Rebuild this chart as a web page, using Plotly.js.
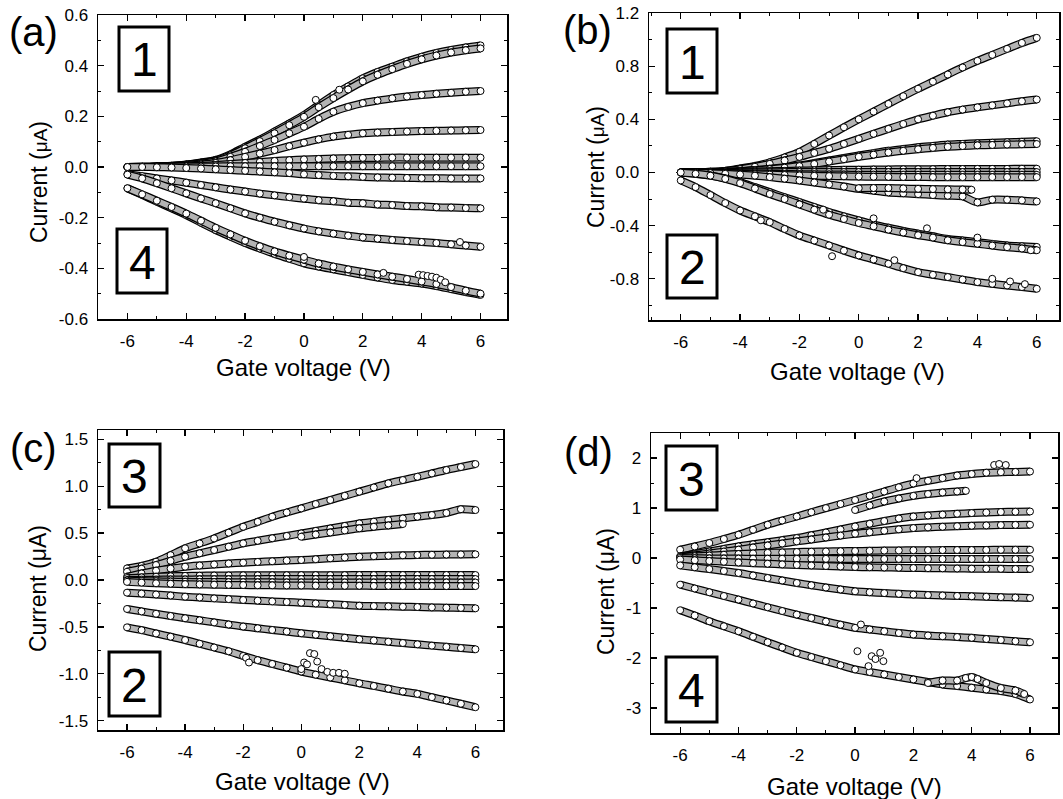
<!DOCTYPE html>
<html><head><meta charset="utf-8">
<script src="https://cdn.plot.ly/plotly-3.0.1.min.js"></script>
<style>html,body{margin:0;padding:0;background:#fff}#chart{width:1063px;height:799px}</style>
</head><body><div id="chart"></div>
<script>
// ---------- shared gate-voltage samples (V) ----------
const xs = [-6,-5.5,-5,-4.5,-4,-3.5,-3,-2.5,-2,-1.5,-1,-0.5,0,0.5,1,1.5,2,2.5,3,3.5,4,4.5,5,5.5,6];
const xTickVals = [-6,-4,-2,0,2,4,6];
const xTickText = ["-6","-4","-2","0","2","4","6"];

// ---------- panel (a) currents (uA) ----------
const a1  = [0.000,0.001,0.002,0.005,0.010,0.018,0.028,0.050,0.080,0.108,0.140,0.172,0.205,0.245,0.284,0.318,0.350,0.375,0.396,0.417,0.435,0.450,0.462,0.472,0.480];
const a1b = [0.000,0.001,0.002,0.004,0.009,0.016,0.026,0.046,0.074,0.102,0.133,0.165,0.198,0.236,0.272,0.306,0.338,0.364,0.386,0.407,0.425,0.440,0.452,0.461,0.468];
const a2  = [0.000,0.001,0.002,0.004,0.008,0.014,0.022,0.040,0.060,0.083,0.107,0.133,0.159,0.190,0.218,0.237,0.252,0.262,0.271,0.278,0.284,0.289,0.293,0.297,0.300];
const a3  = [0.000,0.000,0.001,0.003,0.006,0.010,0.016,0.027,0.040,0.053,0.067,0.082,0.096,0.109,0.120,0.127,0.133,0.136,0.138,0.140,0.142,0.143,0.144,0.145,0.146];
const a4  = [0.000,0.000,0.001,0.002,0.003,0.005,0.008,0.012,0.016,0.020,0.024,0.027,0.030,0.032,0.034,0.035,0.036,0.036,0.037,0.037,0.037,0.037,0.037,0.037,0.037];
const a5  = [0.000,0.000,0.001,0.001,0.002,0.002,0.002,0.003,0.003,0.003,0.003,0.003,0.003,0.003,0.003,0.003,0.003,0.003,0.003,0.003,0.003,0.003,0.003,0.003,0.003];
const a6  = [0.000,0.000,-0.001,-0.002,-0.004,-0.006,-0.009,-0.012,-0.015,-0.018,-0.021,-0.024,-0.029,-0.032,-0.035,-0.037,-0.039,-0.041,-0.042,-0.043,-0.044,-0.044,-0.045,-0.045,-0.045];
const a7  = [-0.028,-0.036,-0.045,-0.053,-0.062,-0.071,-0.080,-0.089,-0.097,-0.105,-0.112,-0.119,-0.125,-0.131,-0.135,-0.141,-0.143,-0.148,-0.150,-0.154,-0.155,-0.159,-0.160,-0.162,-0.163];
const a8  = [-0.030,-0.045,-0.064,-0.084,-0.104,-0.124,-0.143,-0.163,-0.183,-0.200,-0.216,-0.230,-0.243,-0.254,-0.263,-0.271,-0.278,-0.283,-0.288,-0.292,-0.296,-0.300,-0.305,-0.310,-0.315];
const a9  = [-0.084,-0.110,-0.137,-0.163,-0.190,-0.220,-0.249,-0.275,-0.300,-0.322,-0.343,-0.362,-0.380,-0.393,-0.404,-0.415,-0.426,-0.436,-0.446,-0.453,-0.460,-0.470,-0.482,-0.494,-0.505];
const a9b = [-0.084,-0.108,-0.133,-0.158,-0.184,-0.212,-0.240,-0.266,-0.291,-0.313,-0.333,-0.350,-0.366,-0.381,-0.393,-0.404,-0.414,-0.424,-0.433,-0.442,-0.452,-0.462,-0.474,-0.488,-0.500];
const aOutX = [0.4,1.2,0.0,2.7,3.9,4.05,4.2,4.35,4.5,4.65,4.8,5.3];
const aOutY = [0.265,0.305,-0.355,-0.418,-0.425,-0.427,-0.430,-0.433,-0.437,-0.445,-0.455,-0.296];
const aYTickVals = [-0.6,-0.4,-0.2,0,0.2,0.4,0.6];
const aYTickText = ["-0.6","-0.4","-0.2","0.0","0.2","0.4","0.6"];

// ---------- panel (b) ----------
const b1  = [0.000,0.002,0.005,0.012,0.030,0.050,0.077,0.113,0.155,0.215,0.278,0.340,0.400,0.458,0.516,0.574,0.630,0.683,0.737,0.790,0.840,0.885,0.930,0.975,1.013];
const b2  = [0.000,0.002,0.005,0.012,0.025,0.043,0.065,0.090,0.117,0.147,0.178,0.215,0.253,0.291,0.328,0.365,0.400,0.427,0.453,0.473,0.490,0.505,0.520,0.536,0.549];
const b3  = [0.000,0.001,0.003,0.006,0.010,0.018,0.028,0.040,0.053,0.071,0.090,0.109,0.128,0.146,0.163,0.177,0.190,0.200,0.210,0.215,0.220,0.224,0.228,0.231,0.235];
const b3b = [0.000,0.001,0.002,0.005,0.009,0.016,0.025,0.036,0.048,0.064,0.082,0.100,0.118,0.134,0.150,0.163,0.175,0.185,0.193,0.199,0.204,0.207,0.210,0.212,0.214];
const b4a = [0.000,0.001,0.002,0.004,0.006,0.008,0.010,0.012,0.014,0.016,0.018,0.020,0.021,0.022,0.023,0.024,0.025,0.025,0.026,0.026,0.027,0.027,0.027,0.028,0.028];
const b4b = [0.000,0.000,0.001,0.001,0.002,0.002,0.002,0.003,0.003,0.003,0.003,0.003,0.003,0.003,0.003,0.003,0.003,0.003,0.003,0.003,0.003,0.003,0.003,0.003,0.003];
const b4c = [0.000,-0.001,-0.002,-0.003,-0.005,-0.007,-0.009,-0.011,-0.013,-0.014,-0.015,-0.016,-0.017,-0.017,-0.018,-0.018,-0.018,-0.018,-0.018,-0.018,-0.018,-0.018,-0.018,-0.018,-0.018];
const b4d = [0.000,-0.002,-0.004,-0.007,-0.010,-0.013,-0.016,-0.019,-0.022,-0.025,-0.027,-0.029,-0.031,-0.032,-0.033,-0.034,-0.034,-0.035,-0.035,-0.035,-0.035,-0.035,-0.035,-0.035,-0.035];
const b5  = [0.000,-0.002,-0.005,-0.010,-0.015,-0.024,-0.035,-0.047,-0.060,-0.075,-0.090,-0.106,-0.123,-0.137,-0.150,-0.157,-0.163,-0.170,-0.175,-0.180,-0.225,-0.205,-0.205,-0.210,-0.218];
const b5aX = [0,0.5,1,1.5,2,2.5,3,3.5,3.8];
const b5aY = [-0.118,-0.117,-0.117,-0.120,-0.123,-0.125,-0.127,-0.128,-0.130];
const b6  = [0.000,-0.010,-0.023,-0.045,-0.073,-0.110,-0.148,-0.186,-0.223,-0.260,-0.298,-0.330,-0.360,-0.390,-0.416,-0.440,-0.460,-0.480,-0.500,-0.512,-0.524,-0.537,-0.549,-0.555,-0.560];
const b6b = [0.000,-0.010,-0.024,-0.048,-0.080,-0.120,-0.162,-0.200,-0.240,-0.280,-0.318,-0.350,-0.380,-0.405,-0.430,-0.452,-0.472,-0.490,-0.510,-0.524,-0.536,-0.550,-0.562,-0.572,-0.585];
const b7  = [-0.060,-0.110,-0.170,-0.230,-0.286,-0.330,-0.374,-0.425,-0.474,-0.512,-0.549,-0.588,-0.624,-0.655,-0.687,-0.720,-0.750,-0.770,-0.787,-0.806,-0.825,-0.838,-0.850,-0.862,-0.875];
const bOutX = [-3.3,-1.2,-0.9,0.5,1.2,2.3,4.0,4.5,5.1,5.6,5.8];
const bOutY = [-0.360,-0.280,-0.630,-0.345,-0.660,-0.420,-0.490,-0.800,-0.820,-0.840,-0.585];
const bYTickVals = [-0.8,-0.4,0,0.4,0.8,1.2];
const bYTickText = ["-0.8","-0.4","0.0","0.4","0.8","1.2"];

// ---------- panel (c) ----------
const c1  = [0.124,0.150,0.195,0.265,0.338,0.390,0.444,0.505,0.568,0.620,0.675,0.720,0.764,0.810,0.853,0.898,0.942,0.987,1.031,1.066,1.101,1.137,1.173,1.205,1.237];
const c2  = [0.088,0.120,0.160,0.205,0.249,0.285,0.320,0.355,0.391,0.418,0.445,0.470,0.497,0.524,0.550,0.577,0.604,0.622,0.640,0.657,0.675,0.693,0.715,0.755,0.746];
const c2bX = [0,0.5,1,1.5,2,2.5,3,3.5];
const c2bY = [0.462,0.485,0.507,0.529,0.551,0.567,0.582,0.597];
const c3  = [0.035,0.070,0.100,0.122,0.142,0.155,0.166,0.176,0.185,0.193,0.200,0.207,0.213,0.222,0.231,0.240,0.249,0.254,0.258,0.263,0.267,0.269,0.271,0.273,0.274];
const c4a = [0.020,0.028,0.035,0.040,0.044,0.046,0.048,0.049,0.050,0.050,0.051,0.051,0.052,0.052,0.052,0.052,0.053,0.053,0.053,0.053,0.053,0.053,0.053,0.053,0.053];
const c4b = [0.000,0.002,0.004,0.005,0.006,0.007,0.008,0.008,0.009,0.009,0.010,0.010,0.010,0.010,0.010,0.010,0.010,0.010,0.010,0.010,0.010,0.010,0.010,0.010,0.010];
const c4c = [-0.005,-0.010,-0.014,-0.017,-0.019,-0.021,-0.022,-0.023,-0.024,-0.025,-0.025,-0.026,-0.026,-0.026,-0.026,-0.027,-0.027,-0.027,-0.027,-0.027,-0.027,-0.027,-0.027,-0.027,-0.027];
const c4d = [-0.020,-0.028,-0.035,-0.040,-0.044,-0.047,-0.050,-0.052,-0.054,-0.056,-0.057,-0.058,-0.059,-0.060,-0.061,-0.062,-0.062,-0.063,-0.063,-0.064,-0.064,-0.064,-0.065,-0.065,-0.065];
const c5  = [-0.135,-0.145,-0.155,-0.166,-0.178,-0.187,-0.196,-0.204,-0.213,-0.220,-0.228,-0.235,-0.242,-0.250,-0.258,-0.266,-0.274,-0.278,-0.281,-0.285,-0.288,-0.292,-0.295,-0.298,-0.302];
const c6  = [-0.309,-0.335,-0.360,-0.384,-0.408,-0.430,-0.452,-0.475,-0.497,-0.515,-0.533,-0.550,-0.568,-0.584,-0.600,-0.616,-0.632,-0.645,-0.659,-0.672,-0.686,-0.700,-0.713,-0.726,-0.739];
const c7  = [-0.505,-0.535,-0.570,-0.605,-0.640,-0.680,-0.720,-0.760,-0.810,-0.855,-0.895,-0.935,-0.977,-1.010,-1.040,-1.070,-1.102,-1.130,-1.160,-1.190,-1.215,-1.250,-1.285,-1.320,-1.357];
const cOutX = [-1.9,-1.8,0.0,0.1,0.2,0.3,0.45,0.55,0.7,0.9,1.1,1.3,1.5];
const cOutY = [-0.830,-0.880,-0.950,-0.880,-0.900,-0.780,-0.790,-0.870,-0.950,-0.980,-0.990,-0.990,-1.000];
const cYTickVals = [-1.5,-1,-0.5,0,0.5,1,1.5];
const cYTickText = ["-1.5","-1.0","-0.5","0.0","0.5","1.0","1.5"];

// ---------- panel (d) ----------
const d1  = [0.166,0.230,0.300,0.380,0.465,0.565,0.665,0.750,0.830,0.915,0.998,1.080,1.160,1.245,1.330,1.415,1.490,1.545,1.597,1.650,1.680,1.705,1.716,1.722,1.729];
const d1bX = [0,0.5,1,1.5,2,2.5,3,3.5,3.8];
const d1bY = [0.960,1.050,1.130,1.190,1.243,1.280,1.310,1.330,1.343];
const d2  = [0.032,0.080,0.130,0.180,0.232,0.275,0.315,0.357,0.399,0.455,0.510,0.570,0.631,0.685,0.740,0.790,0.830,0.850,0.868,0.885,0.898,0.910,0.920,0.925,0.930];
const d3  = [0.020,0.055,0.090,0.128,0.166,0.210,0.250,0.290,0.332,0.370,0.410,0.448,0.485,0.515,0.545,0.573,0.599,0.612,0.625,0.636,0.645,0.652,0.658,0.662,0.665];
const d4a = [0.020,0.035,0.050,0.065,0.080,0.092,0.103,0.112,0.120,0.126,0.131,0.136,0.140,0.144,0.148,0.151,0.155,0.157,0.158,0.160,0.160,0.162,0.163,0.164,0.165];
const d4b = [0.000,-0.005,-0.008,-0.010,-0.012,-0.013,-0.014,-0.015,-0.016,-0.017,-0.017,-0.018,-0.018,-0.019,-0.019,-0.019,-0.020,-0.020,-0.020,-0.020,-0.020,-0.020,-0.020,-0.020,-0.020];
const d4c = [-0.030,-0.045,-0.060,-0.075,-0.090,-0.103,-0.115,-0.128,-0.140,-0.150,-0.160,-0.170,-0.180,-0.185,-0.190,-0.195,-0.200,-0.204,-0.207,-0.210,-0.213,-0.215,-0.217,-0.219,-0.220];
const d5  = [-0.148,-0.185,-0.222,-0.260,-0.299,-0.350,-0.400,-0.450,-0.499,-0.545,-0.590,-0.630,-0.666,-0.685,-0.702,-0.717,-0.732,-0.741,-0.750,-0.758,-0.766,-0.775,-0.783,-0.792,-0.800];
const d6  = [-0.533,-0.610,-0.685,-0.760,-0.832,-0.910,-0.985,-1.060,-1.132,-1.200,-1.270,-1.335,-1.397,-1.430,-1.465,-1.500,-1.531,-1.550,-1.565,-1.580,-1.597,-1.620,-1.640,-1.665,-1.685];
const d7  = [-1.045,-1.150,-1.265,-1.365,-1.465,-1.575,-1.685,-1.790,-1.896,-1.980,-2.063,-2.145,-2.229,-2.280,-2.329,-2.380,-2.429,-2.480,-2.529,-2.560,-2.595,-2.630,-2.662,-2.720,-2.830];
const d7bX = [2.5,3,3.5,3.8,4,4.2,4.5,5,5.5,5.8];
const d7bY = [-2.50,-2.45,-2.45,-2.40,-2.38,-2.42,-2.50,-2.60,-2.65,-2.72];
const dOutX = [0.08,0.46,0.57,0.70,0.86,0.97,0.20,2.11,4.77,4.94,5.17];
const dOutY = [-1.864,-2.163,-1.964,-2.020,-1.896,-2.063,-1.330,1.597,1.860,1.880,1.860];
const dYTickVals = [-3,-2,-1,0,1,2];
const dYTickText = ["-3","-2","-1","0","1","2"];

// ---------- traces ----------
const FONT = "Liberation Sans, Arial, sans-serif";
const traces = [];
const MARK = {symbol: 'circle', size: 7, color: '#ffffff', line: {color: '#000', width: 1}};
function curve(x, y, n) {
  // dense chain of overlapping open circles: dark outer edge, hatched (grey) core, circle markers on the samples
  traces.push({x: x, y: y, xaxis: 'x' + n, yaxis: 'y' + n, type: 'scatter', mode: 'lines',
    line: {color: '#000', width: 8, shape: 'spline', smoothing: 0.8}, hoverinfo: 'skip', showlegend: false});
  traces.push({x: x, y: y, xaxis: 'x' + n, yaxis: 'y' + n, type: 'scatter', mode: 'lines+markers',
    line: {color: '#b4b4b4', width: 5.5, shape: 'spline', smoothing: 0.8}, marker: MARK, hoverinfo: 'skip', showlegend: false});
}
function dots(x, y, n) {
  traces.push({x: x, y: y, xaxis: 'x' + n, yaxis: 'y' + n, type: 'scatter', mode: 'markers',
    marker: {symbol: 'circle', size: 7, color: '#fff', line: {color: '#000', width: 1}},
    hoverinfo: 'skip', showlegend: false});
}
[a1,a1b,a2,a3,a4,a5,a6,a7,a8,a9,a9b].forEach(y => curve(xs, y, ''));
dots(aOutX, aOutY, '');
[b1,b2,b3,b3b,b4a,b4b,b4c,b4d,b5,b6,b6b,b7].forEach(y => curve(xs, y, 2));
curve(b5aX, b5aY, 2); dots(bOutX, bOutY, 2);
[c1,c2,c3,c4a,c4b,c4c,c4d,c5,c6,c7].forEach(y => curve(xs, y, 3));
curve(c2bX, c2bY, 3); dots(cOutX, cOutY, 3);
[d1,d2,d3,d4a,d4b,d4c,d5,d6,d7].forEach(y => curve(xs, y, 4));
curve(d1bX, d1bY, 4); curve(d7bX, d7bY, 4); dots(dOutX, dOutY, 4);

// ---------- layout ----------
const W = 1063, H = 799;
const fx = p => p / W, fy = p => 1 - p / H;
function xa(l, r, range) {
  return {domain: [fx(l), fx(r)], range: range, tickmode: 'array', tickvals: xTickVals, ticktext: xTickText,
    ticks: 'inside', ticklen: 6, tickwidth: 1.3, tickcolor: '#000', mirror: 'allticks',
    minor: {ticks: 'inside', ticklen: 3, tickwidth: 1, tickcolor: '#000', dtick: 1, tick0: -7},
    showline: true, linecolor: '#000', linewidth: 1.5, showgrid: false, zeroline: false,
    ticklabelstandoff: 6, tickfont: {family: FONT, size: 17, color: '#000'}, fixedrange: true};
}
function ya(t, b, range, vals, text, minorStep) {
  return {domain: [fy(b), fy(t)], range: range, tickmode: 'array', tickvals: vals, ticktext: text,
    ticks: 'inside', ticklen: 6, tickwidth: 1.3, tickcolor: '#000', mirror: 'allticks',
    minor: {ticks: 'inside', ticklen: 3, tickwidth: 1, tickcolor: '#000', dtick: minorStep, tick0: 0},
    showline: true, linecolor: '#000', linewidth: 1.5, showgrid: false, zeroline: false,
    ticklabelstandoff: 5, tickfont: {family: FONT, size: 17, color: '#000'}, fixedrange: true};
}
const layout = {
  width: W, height: H, margin: {l: 0, r: 0, t: 0, b: 0, pad: 0, autoexpand: false},
  paper_bgcolor: '#fff', plot_bgcolor: '#fff', showlegend: false, font: {family: FONT, color: '#000'},
  xaxis:  Object.assign(xa(98, 507, [-7, 6.9]), {anchor: 'y'}),
  yaxis:  Object.assign(ya(15, 319, [-0.6, 0.6], aYTickVals, aYTickText, 0.1), {anchor: 'x'}),
  xaxis2: Object.assign(xa(649, 1059, [-7.07, 6.75]), {anchor: 'y2'}),
  yaxis2: Object.assign(ya(13, 320, [-1.11, 1.2], bYTickVals, bYTickText, 0.2), {anchor: 'x2'}),
  xaxis3: Object.assign(xa(98, 503, [-7, 6.95]), {anchor: 'y3'}),
  yaxis3: Object.assign(ya(430, 730, [-1.6, 1.6], cYTickVals, cYTickText, 0.25), {anchor: 'x3'}),
  xaxis4: Object.assign(xa(651, 1058, [-7, 6.96]), {anchor: 'y4'}),
  yaxis4: Object.assign(ya(433, 733, [-3.5, 2.5], dYTickVals, dYTickText, 0.5), {anchor: 'x4'}),
  shapes: [], annotations: []
};
function ann(text, x, y, size, angle) {
  layout.annotations.push({text: text, xref: 'paper', yref: 'paper', x: fx(x), y: fy(y),
    xanchor: 'center', yanchor: 'middle', showarrow: false, textangle: angle || 0,
    font: {family: FONT, size: size, color: '#000'}});
}
function box(label, l, r, t, b) {
  layout.shapes.push({type: 'rect', xref: 'paper', yref: 'paper', x0: fx(l), x1: fx(r), y0: fy(b), y1: fy(t),
    line: {color: '#000', width: 3}, fillcolor: 'rgba(0,0,0,0)'});
  ann(label, (l + r) / 2, (t + b) / 2 + 1, 48);
}
ann('(a)', 33, 32, 40); ann('(b)', 587, 30, 40); ann('(c)', 33, 448, 40); ann('(d)', 588, 452, 40);
box('1', 119, 169, 27, 91);  box('4', 117, 167, 229, 293);
box('1', 667, 717, 29, 93);  box('2', 667, 717, 235, 298);
box('3', 109, 160, 444, 507); box('2', 109, 160, 652, 716);
box('3', 666, 717, 446, 510); box('4', 666, 717, 657, 722);
const small = 'Current (<span style="font-size:19px">μA</span>)';
ann(small, 39, 182, 23, -90); ann(small, 596, 167, 23, -90);
ann('Current (μA)', 38, 589, 23, -90); ann('Current (μA)', 606, 592, 23, -90);
ann('Gate voltage (V)', 303, 367, 24); ann('Gate voltage (V)', 857, 371, 24);
ann('Gate voltage (V)', 302, 781, 24); ann('Gate voltage (V)', 854, 786, 24);

Plotly.newPlot('chart', traces, layout, {staticPlot: true, displayModeBar: false});
</script></body></html>
